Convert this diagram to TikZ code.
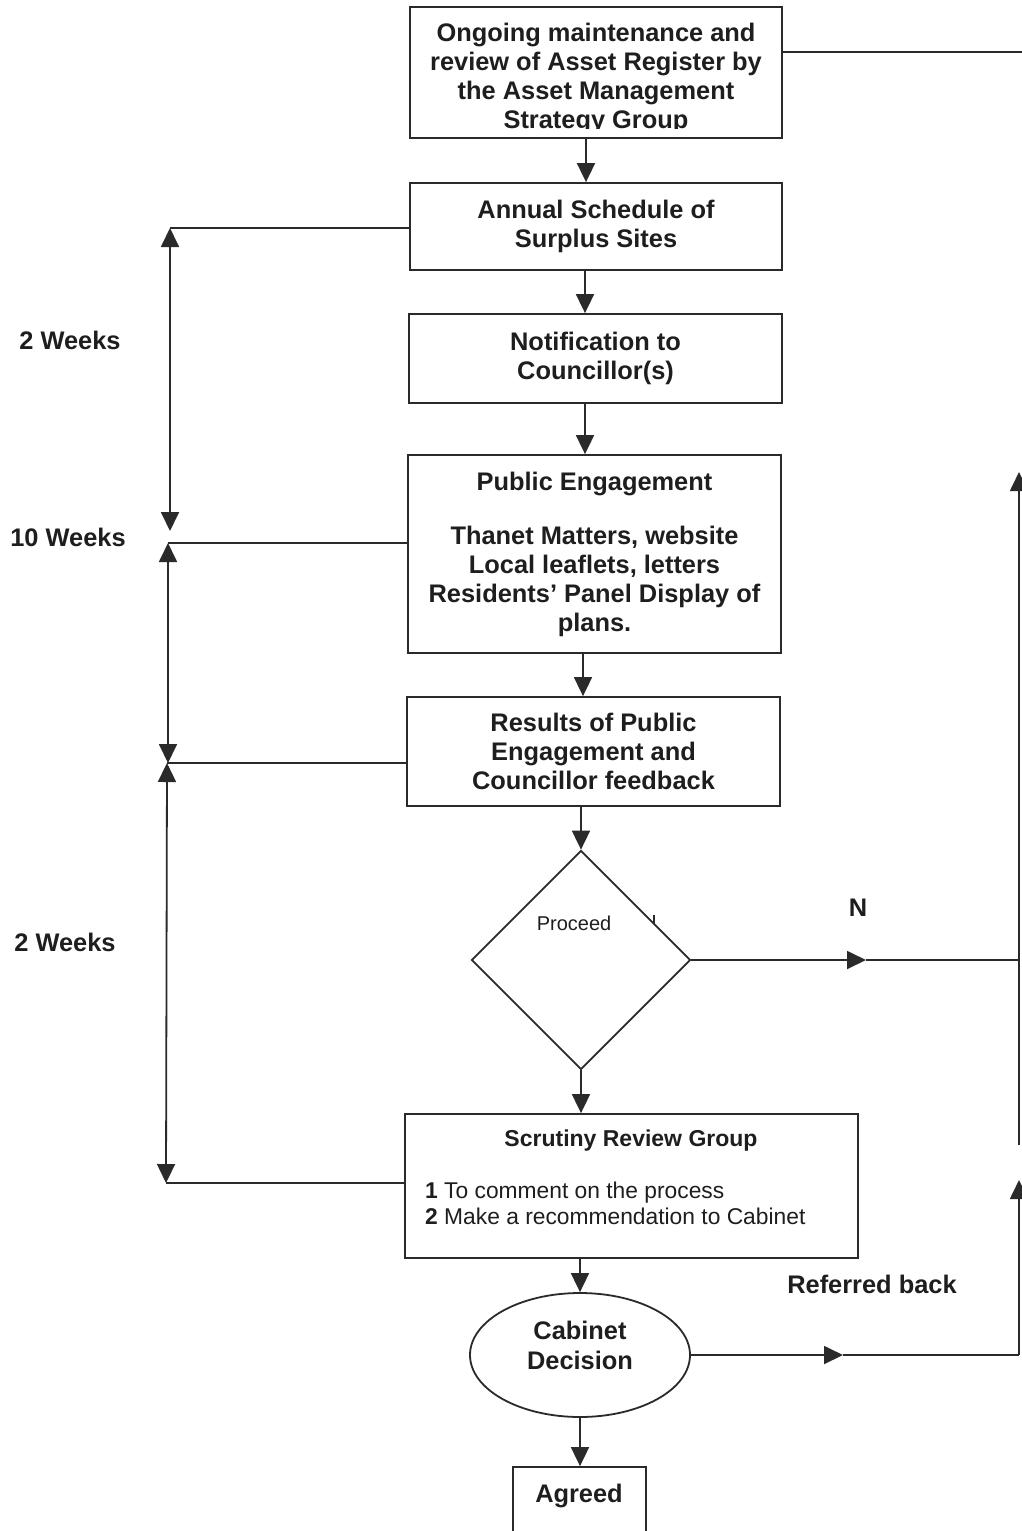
\documentclass[tikz,border=0pt]{standalone}
\usepackage{fontspec}
\setmainfont{Liberation Sans}
\usetikzlibrary{arrows.meta,shapes.geometric}
\definecolor{ln}{HTML}{2A2A2A}
\definecolor{tx}{HTML}{1E1E1E}
\tikzset{
  box/.style={draw=ln, line width=1.8pt, rectangle, inner sep=0pt, align=center, text=tx, font=\bfseries\fontsize{25.4}{29}\selectfont},
  lbl/.style={inner sep=0pt, align=center, text=tx, font=\bfseries\fontsize{25.4}{29}\selectfont},
  plain/.style={draw=ln, line width=1.8pt},
  arr/.style={draw=ln, line width=1.8pt, -{Triangle[length=19pt,width=18pt]}},
  dbl/.style={draw=ln, line width=1.8pt, {Triangle[length=19pt,width=18pt]}-{Triangle[length=19pt,width=18pt]}}
}
\begin{document}
\begin{tikzpicture}[x=1pt,y=-1pt]
\useasboundingbox (0,0) rectangle (1022,1531);
\fill[white] (0,0) rectangle (1022,1531);

% boxes
\node[box, minimum width=372pt, minimum height=131pt] (b1) at (596,72.5) {};
\begin{scope}
  \clip (411,8) rectangle (781,128.5);
  \node[lbl] (t1) at (596,78.5) {Ongoing maintenance and\\review of Asset Register by\\the Asset Management\\Strategy Group};
\end{scope}
\node[box, minimum width=372pt, minimum height=87pt] (b2) at (596,226.5) {Annual Schedule of\\Surplus Sites};
\node[box, minimum width=373pt, minimum height=89pt] (b3) at (595.5,358.5) {Notification to\\Councillor(s)};
\node[box, minimum width=373pt, minimum height=198pt] (b4) at (594.5,554) {Public Engagement\\[25pt]Thanet Matters, website\\Local leaflets, letters\\Residents’ Panel Display of\\plans.};
\node[box, minimum width=373pt, minimum height=109pt] (b5) at (593.5,751.5) {Results of Public\\Engagement and\\Councillor feedback};
\node[diamond, draw=ln, line width=1.8pt, minimum width=219pt, minimum height=219pt, inner sep=0pt] (d) at (581,960) {};
\node[inner sep=0pt, text=tx, font=\fontsize{20}{24}\selectfont] (pr) at (574,923) {Proceed};
\draw[plain, line width=2pt] (654,915) -- (654,924);
\node[box, minimum width=453pt, minimum height=144pt] (b6) at (631.5,1186) {};
\node[lbl, font=\bfseries\fontsize{23}{27}\selectfont] (t6) at (631,1140.5) {Scrutiny Review Group};
\node[inner sep=0pt, align=left, anchor=west, text=tx, font=\fontsize{22.8}{26}\selectfont] (t6b) at (425,1203) {\textbf{1} To comment on the process\\\textbf{2} Make a recommendation to Cabinet};
\node[ellipse, draw=ln, line width=1.8pt, minimum width=220pt, minimum height=124pt, inner sep=0pt] (e) at (580,1355) {};
\node[lbl, font=\bfseries\fontsize{25.4}{30}\selectfont] (te) at (580,1345) {Cabinet\\Decision};
\node[box, minimum width=133pt, minimum height=110pt] (b7) at (579.5,1522) {};
\node[lbl] (t7) at (579,1495.5) {Agreed};

% side labels
\node[lbl] (w1) at (70,340) {2 Weeks};
\node[lbl] (w2) at (68,537) {10 Weeks};
\node[lbl] (w3) at (65,942) {2 Weeks};
\node[lbl] (nn) at (858,908) {N};
\node[lbl] (rb) at (872,1284) {Referred back};

% main flow arrows
\coordinate (xa) at (586,0);
\coordinate (xb) at (585,0);
\coordinate (xc) at (583,0);
\coordinate (xe) at (580,0);
\draw[arr] (xa |- b1.south) -- (xa |- b2.north);
\draw[arr] (xb |- b2.south) -- (xb |- b3.north);
\draw[arr] (xb |- b3.south) -- (xb |- b4.north);
\draw[arr] (xc |- b4.south) -- (xc |- b5.north);
\draw[arr] (d.north |- b5.south) -- (d.north);
\draw[arr] (d.south) -- (d.south |- b6.north);
\draw[arr] (xe |- b6.south) -- (e.north);
\draw[arr] (e.south) -- (e.south |- b7.north);

% left timing arrows
\coordinate (L1) at (170,228);
\coordinate (L1b) at (170,531);
\coordinate (L2) at (168,543);
\coordinate (L2b) at (168,763);
\coordinate (L3) at (167,763);
\coordinate (L4) at (166,1183);
\draw[plain] (b2.west |- L1) -- (L1);
\draw[dbl] (L1) -- (L1b);
\draw[plain] (b4.west |- L2) -- (L2);
\draw[dbl] (L2) -- (L2b);
\draw[plain] (b5.west |- L3) -- (L3);
\draw[dbl] (L3) -- (L4);
\draw[plain] (b6.west |- L4) -- (L4);

% right return lines
\coordinate (R0) at (1030,52);
\draw[plain] (b1.east |- R0) -- (R0);
\coordinate (Nm) at (866,960);
\coordinate (R1) at (1019,960);
\draw[arr] (d.east) -- (Nm);
\draw[plain] (Nm) -- (R1);
\coordinate (R2) at (1019,1145);
\coordinate (R3) at (1019,472);
\draw[arr] (R2) -- (R3);
\coordinate (Rm) at (843,1355);
\coordinate (R4) at (1019,1355);
\coordinate (R5) at (1019,1180);
\draw[arr] (e.east) -- (Rm);
\draw[plain] (Rm) -- (R4);
\draw[arr] (R4) -- (R5);
\end{tikzpicture}
\end{document}
